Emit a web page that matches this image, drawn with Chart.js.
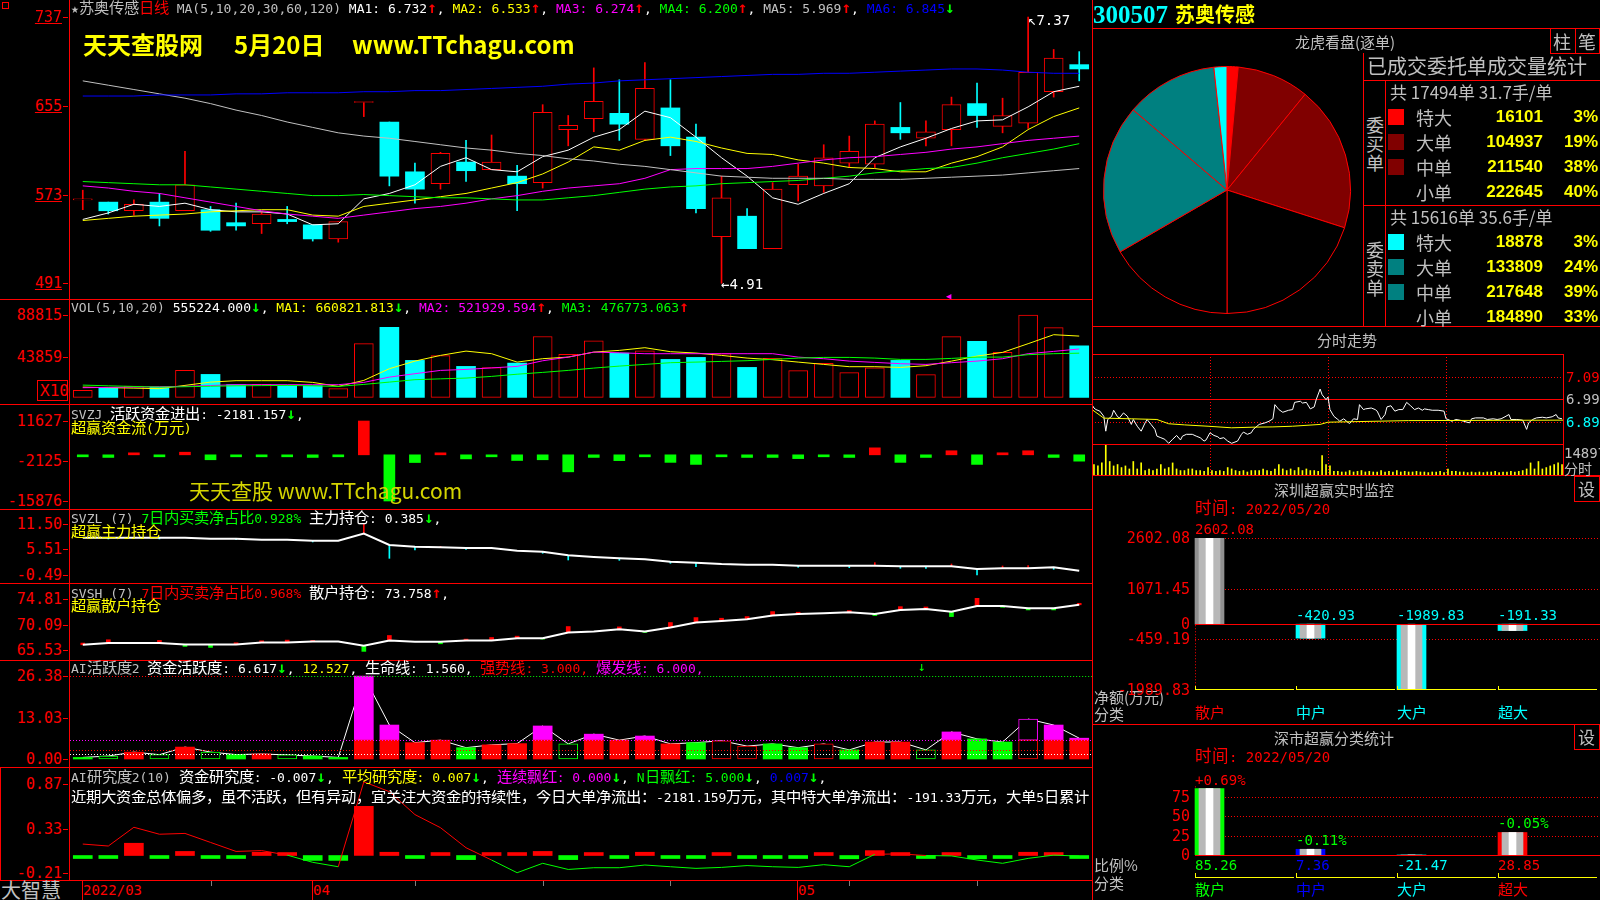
<!DOCTYPE html>
<html lang="zh-CN">
<head>
<meta charset="utf-8">
<title>苏奥传感 日线</title>
<script src="https://cdn.jsdelivr.net/npm/chart.js@4.4.0/dist/chart.umd.min.js"></script>
<style>
@font-face{font-family:"CJK15";src:local("Noto Sans CJK SC"),local("Noto Sans CJK SC Regular"),local("NotoSansCJKsc-Regular");size-adjust:118%;unicode-range:U+2E80-9FFF,U+3000-303F,U+FF00-FFEF;}
html,body{margin:0;padding:0;background:#000}
body{position:relative;width:1600px;height:900px;overflow:hidden;font:13px "DejaVu Sans Mono","CJK15","Noto Sans CJK SC",monospace;color:#c0c0c0}
canvas{position:absolute;z-index:1}
.t{position:absolute;white-space:nowrap;line-height:15px;z-index:3}
.ln{position:absolute;background:#f00;z-index:2}
.box{position:absolute;border:1px solid #f00;box-sizing:border-box;z-index:2}
.r{color:#f00}.w{color:#fff}.y{color:#ff0}.m{color:#f0f}.g{color:#0f0}.b{color:#00f}.c{color:#0ff}.s{color:#c0c0c0}
.ylab{position:absolute;right:1538px;font:15px "DejaVu Sans Mono",monospace;color:#f00;line-height:16px;z-index:3;white-space:nowrap}
.ul{text-decoration:underline}
.sans{font-family:"Noto Sans CJK SC",sans-serif}
.big{font:bold 24px "Noto Sans CJK SC",sans-serif;color:#ff0;line-height:28px}
</style>
</head>
<body>
<!-- left headers -->
<div class="t" style="left:71px;top:1px"><span class="s">★苏奥传感</span><span class="r">日线</span><span class="s"> MA(5,10,20,30,60,120) </span><span class="w">MA1: 6.732</span><span class="r">↑</span><span class="w">, </span><span class="y">MA2: 6.533</span><span class="r">↑</span><span class="w">, </span><span class="m">MA3: 6.274</span><span class="r">↑</span><span class="w">, </span><span class="g">MA4: 6.200</span><span class="r">↑</span><span class="w">, </span><span class="s">MA5: 5.969</span><span class="r">↑</span><span class="w">, </span><span class="b">MA6: 6.845</span><span class="g">↓</span></div>
<div class="t big" style="left:83px;top:30px">天天查股网</div>
<div class="t big" style="left:234px;top:30px">5月20日</div>
<div class="t big" style="left:352px;top:30px">www.TTchagu.com</div>
<div class="t w" style="left:1028px;top:13px;font-size:14px">↖7.37</div>
<div class="t w" style="left:721px;top:277px;font-size:14px">←4.91</div>
<div class="t m" style="left:946px;top:289px;font-size:9px">◀</div>

<div class="t" style="left:71px;top:300px"><span class="s">VOL(5,10,20)</span><span class="w"> 555224.000</span><span class="g">↓</span><span class="w">, </span><span class="y">MA1: 660821.813</span><span class="g">↓</span><span class="w">, </span><span class="m">MA2: 521929.594</span><span class="r">↑</span><span class="w">, </span><span class="g">MA3: 476773.063</span><span class="r">↑</span></div>
<div class="t r" style="left:40px;top:382px;font-size:16px;line-height:17px">X10</div>

<div class="t" style="left:71px;top:407px"><span class="s">SVZJ</span><span class="w">  活跃资金进出: -2181.157</span><span class="g">↓</span><span class="w">,</span></div>
<div class="t y" style="left:71px;top:421px">超赢资金流(万元)</div>
<div class="t sans" style="left:189px;top:476px;font-size:21px;line-height:28px;color:#d4d400">天天查股 www.TTchagu.com</div>

<div class="t" style="left:71px;top:511px"><span class="s">SVZL (7) </span><span class="g">7日内买卖净占比0.928% </span><span class="w">主力持仓: 0.385</span><span class="g">↓</span><span class="w">,</span></div>
<div class="t y" style="left:71px;top:525px">超赢主力持仓</div>

<div class="t" style="left:71px;top:586px"><span class="s">SVSH (7) </span><span class="r">7日内买卖净占比0.968% </span><span class="w">散户持仓: 73.758</span><span class="r">↑</span><span class="w">,</span></div>
<div class="t y" style="left:71px;top:599px">超赢散户持仓</div>

<div class="t" style="left:71px;top:661px"><span class="s">AI活跃度2 </span><span class="w">资金活跃度: 6.617</span><span class="g">↓</span><span class="w">, </span><span class="y">12.527</span><span class="w">, 生命线: 1.560, </span><span class="r">强势线: 3.000, </span><span class="m">爆发线: 6.000,</span></div>
<div class="t g" style="left:918px;top:659px">↓</div>

<div class="t" style="left:71px;top:770px"><span class="s">AI研究度2(10) </span><span class="w">资金研究度: -0.007</span><span class="g">↓</span><span class="w">, </span><span class="y">平均研究度: 0.007</span><span class="g">↓</span><span class="w">, </span><span class="m">连续飘红: 0.000</span><span class="g">↓</span><span class="w">, </span><span class="g">N日飘红: 5.000</span><span class="g">↓</span><span class="w">, </span><span class="b">0.007</span><span class="g">↓</span><span class="w">,</span></div>
<div class="t w" style="left:71px;top:790px;width:1020px;overflow:hidden">近期大资金总体偏多，虽不活跃，但有异动，宜关注大资金的持续性，今日大单净流出：-2181.159万元，其中特大单净流出：-191.33万元，大单5日累计</div>

<div class="t sans" style="left:1px;top:879px;font-size:20px;line-height:22px">大智慧</div>

<!-- right headers -->
<div class="t" style="left:1093px;top:2px;font:bold 25px 'Liberation Serif',serif;color:#0ff;line-height:26px">300507</div>
<div class="t sans" style="left:1175px;top:1px;font-size:20px;font-weight:bold;color:#ff0;line-height:26px">苏奥传感</div>
<div class="t sans" style="left:1295px;top:33px;font-size:15px;line-height:18px">龙虎看盘(逐单)</div>
<div class="t sans" style="left:1553px;top:30px;font-size:18px;line-height:22px">柱</div>
<div class="t sans" style="left:1578px;top:30px;font-size:18px;line-height:22px">笔</div>
<div class="t sans" style="left:1367px;top:54px;font-size:20px;line-height:24px">已成交委托单成交量统计</div>
<div class="t sans" style="left:1366px;top:115px;font-size:18px;line-height:19px;white-space:normal;width:19px">委买单</div>
<div class="t sans" style="left:1366px;top:240px;font-size:18px;line-height:19px;white-space:normal;width:19px">委卖单</div>
<div class="t sans" style="left:1317px;top:331px;font-size:15px;line-height:18px">分时走势</div>
<div class="t sans" style="left:1564px;top:461px;font-size:14px;line-height:15px">分时</div>
<div class="t sans" style="left:1274px;top:481px;font-size:15px;line-height:18px">深圳超赢实时监控</div>
<div class="t sans" style="left:1578px;top:479px;font-size:17px;line-height:20px">设</div>
<div class="t r" style="left:1195px;top:502px;font-size:14px">时间: 2022/05/20</div>
<div class="t sans" style="left:1094px;top:688px;font-size:15px;line-height:17px">净额(万元)</div>
<div class="t sans" style="left:1094px;top:705px;font-size:15px;line-height:17px">分类</div>
<div class="t sans" style="left:1274px;top:729px;font-size:15px;line-height:18px">深市超赢分类统计</div>
<div class="t sans" style="left:1578px;top:727px;font-size:17px;line-height:20px">设</div>
<div class="t r" style="left:1195px;top:750px;font-size:14px">时间: 2022/05/20</div>
<div class="t sans" style="left:1094px;top:856px;font-size:15px;line-height:17px">比例%</div>
<div class="t sans" style="left:1094px;top:874px;font-size:15px;line-height:17px">分类</div>

<script>
// ---------- daily data (2022-03-21 .. 2022-05-20) ----------
const days = ['03-21','03-22','03-23','03-24','03-25','03-28','03-29','03-30','03-31','04-01',
  '04-06','04-07','04-08','04-11','04-12','04-13','04-14','04-15','04-18','04-19',
  '04-20','04-21','04-22','04-25','04-26','04-27','04-28','04-29','05-05','05-06',
  '05-09','05-10','05-11','05-12','05-13','05-16','05-17','05-18','05-19','05-20'];
const open  = [5.68,5.66,5.58,5.66,5.58,5.59,5.47,5.46,5.50,5.45, 5.32,6.58,6.40,5.94,5.83,6.03,5.96,5.90,5.84,6.33,
               6.43,6.48,6.24,6.53,6.26,5.34,5.53,5.23,5.82,5.81, 6.02,6.01,6.35,6.25,6.33,6.57,6.36,6.39,6.68,6.93];
const high  = [5.77,5.66,5.68,5.74,6.13,5.62,5.65,5.57,5.62,5.45, 5.48,6.58,6.40,6.02,6.12,6.23,6.28,6.00,6.56,6.46,
               6.90,6.79,6.95,6.79,6.38,5.90,5.60,5.84,6.01,6.19, 6.27,6.41,6.58,6.41,6.63,6.76,6.62,7.37,7.07,7.05];
const low   = [5.59,5.55,5.54,5.44,5.58,5.39,5.40,5.37,5.46,5.30, 5.29,6.45,5.81,5.65,5.78,5.85,5.96,5.58,5.79,6.18,
               6.31,6.23,6.23,6.09,5.56,4.91,5.23,5.23,5.67,5.75, 5.98,5.98,6.24,6.18,6.18,6.35,6.30,6.34,6.63,6.78];
const close = [5.68,5.58,5.64,5.51,5.82,5.40,5.44,5.55,5.48,5.32, 5.48,6.58,5.90,5.78,6.11,5.95,6.03,5.83,6.49,6.37,
               6.59,6.38,6.71,6.18,5.60,5.70,5.23,5.78,5.90,6.07, 6.13,6.38,6.30,6.31,6.56,6.46,6.46,6.86,6.99,6.89];
const ma5   = [5.50,5.56,5.64,5.62,5.65,5.59,5.57,5.57,5.55,5.45, 5.46,5.69,5.74,5.82,5.99,6.07,5.96,5.94,6.08,6.14,
               6.26,6.33,6.50,6.44,6.26,6.07,5.90,5.70,5.64,5.74, 5.83,6.07,6.17,6.25,6.34,6.41,6.42,6.54,6.68,6.73];
const ma10  = [5.49,5.51,5.53,5.54,5.55,5.57,5.58,5.59,5.59,5.54, 5.53,5.62,5.65,5.68,5.71,5.74,5.79,5.84,5.92,6.03,
               6.17,6.14,6.23,6.26,6.22,6.16,6.11,6.10,6.05,6.02, 5.98,5.97,5.94,5.94,6.02,6.08,6.17,6.33,6.45,6.53];
const ma20  = [5.81,5.79,5.76,5.74,5.70,5.66,5.62,5.58,5.55,5.53, 5.51,5.54,5.57,5.60,5.62,5.65,5.69,5.72,5.76,5.79,
               5.81,5.83,5.88,5.96,5.97,5.97,5.97,5.99,6.02,6.05, 6.07,6.08,6.10,6.12,6.15,6.17,6.20,6.23,6.25,6.27];
const ma30  = [5.85,5.84,5.83,5.82,5.82,5.80,5.78,5.76,5.74,5.72, 5.72,5.73,5.72,5.71,5.70,5.70,5.69,5.68,5.68,5.70,
               5.72,5.75,5.78,5.80,5.81,5.83,5.84,5.85,5.86,5.88, 5.90,5.93,5.95,5.97,5.98,6.02,6.07,6.11,6.15,6.20];
const ma60  = [6.78,6.74,6.70,6.66,6.62,6.57,6.51,6.46,6.40,6.35, 6.30,6.27,6.25,6.22,6.19,6.16,6.14,6.11,6.09,6.06,
               6.04,6.01,5.99,5.96,5.93,5.90,5.89,5.88,5.88,5.88, 5.87,5.87,5.87,5.88,5.89,5.90,5.91,5.93,5.95,5.97];
const ma120 = [6.64,6.64,6.64,6.65,6.65,6.65,6.66,6.66,6.67,6.67, 6.67,6.68,6.68,6.69,6.69,6.70,6.71,6.72,6.73,6.75,
               6.76,6.78,6.79,6.80,6.81,6.82,6.83,6.84,6.84,6.85, 6.85,6.86,6.87,6.88,6.89,6.89,6.88,6.86,6.85,6.85];
const priceTicks = [7.37, 6.55, 5.73, 4.91];

// volume (axis units, x10 shares)
const vol     = [7550,10030,12180,11100,29100,24790,13690,14000,12940,12600, 9380,57890,75460,39890,44950,33420,32020,36980,65600,46350,
                 61100,47800,50300,40960,43120,47100,32340,42040,28780,36650, 26630,32000,39890,24470,65430,60370,48510,88815,75140,55522];
const volMa5  = [11100,10500,10000,9400,12940,16500,18000,18000,18000,16170, 11860,18330,30940,39130,45280,49910,47100,38050,41720,43440,
                 48830,50670,53570,49260,47800,45280,42370,40640,38050,35570, 33090,33090,32300,34170,39130,44520,48510,57890,67590,66082];
const volMa10 = [10460,10800,11200,11500,11860,12800,13690,13690,13690,13690, 13690,16170,21880,25550,29100,30180,31800,33420,39500,43440,
                 48830,48100,47110,47110,47110,47110,47110,47110,43440,41720, 39130,37730,36330,35570,37400,39130,41720,47110,49590,52193];
const volMa20 = [13260,12500,11800,11100,11500,12000,12500,12700,12940,12400, 11860,14010,16500,19080,20000,20810,22640,25000,26950,29110,
                 31590,33740,35570,37400,38050,38810,39560,40960,42370,43120, 43120,42370,40960,40960,42040,43440,43440,46030,47110,47677];
const volTicks = [88815, 43859];

// SVZJ 活跃资金进出 (万元)
const zj = [-600,-900,400,-600,900,-1700,-300,-300,-600,-900, -600,11627,-15876,-2650,500,-1400,-600,-1950,-1700,-5850,
            -900,-2000,-300,-2600,-3300,-300,-900,-900,-1300,-300, -900,2400,-2600,-900,1400,-3300,700,1400,-900,-2181];
const zjTicks = [11627, -2125, -15876];

// SVZL 主力持仓 + daily change ticks
const zl = [8.35,8.35,8.35,8.35,8.35,8.11,8.11,7.87,7.87,7.63, 7.63,9.31,6.59,6.19,6.03,5.87,5.87,5.23,4.99,4.11,
            3.71,3.39,3.15,2.59,2.35,2.03,1.87,1.87,1.63,1.63, 1.63,1.63,1.47,1.47,1.47,0.83,0.99,0.99,1.23,0.39];
const zlTick = [null,8.03,null,8.03,null,null,7.87,null,null,7.31, null,11.55,3.39,5.39,6.27,5.55,null,null,4.59,2.99,
                null,2.9,null,2.19,1.39,null,null,null,1.23,null, 1.15,2.35,0.99,0.99,2.03,-0.61,1.55,1.63,0.75,null];
const zlTicks = [11.50, 5.51, -0.49];

// SVSH 散户持仓 + daily change ticks
const sh = [66.48,66.79,66.79,66.79,66.55,66.55,66.55,66.90,66.90,67.08, 67.08,66.30,67.26,67.02,67.02,67.26,67.26,67.68,67.68,68.71,
            68.90,69.32,68.90,69.62,70.52,70.82,71.12,71.79,72.09,72.21, 72.39,72.09,72.81,73.00,72.51,73.54,73.54,73.12,73.12,73.76];
const shTick = [66.79,67.39,null,67.27,66.18,66.00,66.85,67.21,67.33,67.27, null,65.28,68.17,null,66.66,67.51,67.81,68.05,67.51,69.80,
                null,69.74,68.72,70.53,71.43,71.31,71.61,72.52,72.40,null, 72.70,71.80,73.42,73.36,71.61,74.93,73.30,72.82,72.82,74.03];
const shTicks = [74.81, 70.09, 65.53];

// AI活跃度2 资金活跃度 and bar kind (R red, G green, r/g hollow, m hollow magenta)
const act = [0.5,0.95,2.2,1.37,3.8,2.2,1.4,1.6,1.3,0.95, 0.5,26.38,10.8,5.2,6.0,3.6,4.5,4.9,10.5,4.8,
             7.9,6.0,7.3,4.8,5.2,5.8,4.1,4.8,3.6,4.8, 2.9,5.4,5.4,2.9,8.6,6.4,5.4,12.7,10.8,6.62];
const actKind = ['G','g','R','g','R','g','G','R','g','G', 'G','R','R','R','R','G','R','R','R','g',
                 'R','R','R','R','G','r','r','G','G','r', 'G','R','R','g','R','G','G','m','R','R'];
const actTicks = [26.38, 13.03, 0];
const actTop = 26.38, burstLine = 6, strongLine = 3, lifeLine = 1.56;

// AI研究度2
const res = [-0.01,-0.01,0.15,-0.01,0.05,-0.02,-0.02,0.04,0.01,-0.06, -0.06,0.60,0.04,-0.01,0.01,-0.05,0.02,0.01,0.05,-0.05,
             0.01,-0.01,0.04,-0.03,-0.03,0.01,-0.03,-0.03,-0.03,0.01, -0.04,0.06,0.03,-0.03,0.01,-0.04,-0.03,0.04,0.03,-0.007];
const resLine = [0.14,0.116,0.345,0.26,0.27,0.16,0.05,0.06,0.005,-0.083, -0.137,0.90,0.78,0.50,0.34,0.095,-0.055,-0.21,-0.095,-0.17,
                 -0.149,-0.149,-0.116,-0.137,-0.157,-0.145,-0.123,-0.137,-0.145,-0.112, -0.137,0.015,0.02,0.0,-0.005,-0.055,-0.095,-0.035,0.005,-0.007];
const resTicks = [0.87, 0.33, -0.21];

const monthIdx = [0, 9, 28], monthText = ['2022/03', '04', '05'];
const weekIdx = [5, 13, 18, 23, 30, 35];

// 龙虎看盘
const orderCats = ['特大','大单','中单','小单'];
const buyVol = [16101,104937,211540,222645], buyPct = [3,19,38,40];
const sellVol = [18878,133809,217648,184890], sellPct = [3,24,39,33];
const buyHead = '共 17494单 31.7手/单', sellHead = '共 15616单 35.6手/单';

// 分时走势
const fsMin = [0,1,2,4,6,7,8,10,11,13, 14,16,18,20,21,23,25,27,28,30, 32,33,35,37,39,41,43,45,46,48,
  51,53,55,57,58,60,62,64,65,67, 69,71,74,76,77,79,81,82,85,88, 90,92,93,95,97,100,102,103,106,107,
  109,111,113,114,116,117,119,120,121,123, 125,126,128,130,131,133,135,136,138,139, 142,144,145,147,149,150,152,154,156,158,
  160,162,164,166,168,169,171,173,176,179, 180,181,183,185,187,189,192,193,195,199, 201,204,206,208,210,212,213,216,219,221,
  222,224,226,229,231,234,236,237,239];
const fsPrice = [6.965,6.950,6.943,6.936,6.913,6.847,6.899,6.913,6.940,6.911, 6.906,6.928,6.913,6.877,6.899,6.869,6.847,6.884,6.899,6.877,
  6.855,6.825,6.818,6.811,6.793,6.811,6.828,6.808,6.825,6.833, 6.833,6.825,6.818,6.803,6.808,6.840,6.828,6.822,6.814,6.818,
  6.803,6.793,6.803,6.833,6.843,6.833,6.840,6.855,6.877,6.884, 6.891,6.902,6.965,6.943,6.931,6.940,6.943,6.975,6.980,6.972,
  6.975,6.946,6.955,6.987,7.034,7.009,6.987,6.999,6.943,6.913, 6.899,6.891,6.902,6.887,6.881,6.902,6.899,6.965,6.943,6.946,
  6.950,6.943,6.936,6.899,6.921,6.955,6.960,6.936,6.943,6.943, 6.975,6.960,6.943,6.950,6.940,6.946,6.943,6.940,6.940,6.936,
  6.902,6.899,6.891,6.899,6.896,6.891,6.884,6.902,6.906,6.906, 6.899,6.902,6.899,6.902,6.911,6.921,6.899,6.899,6.896,6.855,
  6.884,6.899,6.906,6.909,6.906,6.911,6.921,6.906,6.902];
const fsAvgMin = [0,6,20,33,39,47,59,71,83,92,102,116,120,161,240];
const fsAvgPrice = [6.943,6.905,6.902,6.899,6.880,6.875,6.869,6.862,6.865,6.866,6.869,6.877,6.887,6.894,6.896];
const fsVol = [5200,4500,6000,14897,6700,4500,5200,3700,4500,3000, 6700,3000,6000,2200,3000,2200,3000,5200,3000,3700,
  6000,3000,2200,2200,3000,3000,2200,2200,1800,3700, 2200,1800,2200,1800,3700,3000,2200,1800,2200,1500,
  2200,2200,2200,3000,2200,1800,3000,5200,3000,2200, 3000,2200,3700,2200,3000,2200,2200,1800,9700,5200,
  4500,1800,1800,1500,1500,2200,1500,1800,2200,1500, 1800,1500,1500,2200,1500,1800,1500,2200,1500,1800,
  1500,1500,1800,1500,1500,1200,1500,1500,1800,1200, 3000,1800,1800,1500,1500,1200,1500,1200,1500,1200,
  1500,1500,1800,1200,1500,1500,1800,1500,1800,2200, 3000,6000,3000,6700,3000,3700,4500,5200,6000,5200];
const fsTicks = [7.09, 6.99, 6.89], prevClose = 6.99, fsVolMax = 14897;

// 深圳超赢实时监控 / 深市超赢分类统计
const szCats = ['散户','中户','大户','超大'];
const szNet = [2602.08, -420.93, -1989.83, -191.33];
const szTicks = [2602.08, 1071.45, 0, -459.19, -1989.83];
const smRatio = [85.26, 7.36, -21.47, 28.85];
const smChg = ['+0.69%', '-0.11%', null, '-0.05%'];
const smTicks = [75, 50, 25, 0];

// ---------- helpers ----------
const RED = '#ff0000', CYAN = '#00ffff', GREEN = '#00ff00', MAG = '#ff00ff', YEL = '#ffff00', WHITE = '#ffffff';

// taller arrows, like the terminal's bitmap font
document.querySelectorAll('span').forEach(s => {
  if (/^[↑↓]$/.test(s.textContent)) { s.style.fontSize = '16px'; s.style.fontWeight = 'bold'; s.style.lineHeight = '13px'; }
});

function drawG(ch, list) {
  if (!list) return;
  const { ctx, chartArea: ca, scales: { x, y } } = ch;
  list.forEach(g => {
    ctx.save();
    ctx.strokeStyle = g.c; ctx.lineWidth = 1; ctx.setLineDash(g.d || []);
    ctx.beginPath();
    if (g.y !== undefined) {
      const py = Math.round(y.getPixelForValue(g.y)) + 0.5;
      ctx.moveTo(g.x0 !== undefined ? x.getPixelForValue(g.x0) : ca.left, py);
      ctx.lineTo(g.x1 !== undefined ? x.getPixelForValue(g.x1) : ca.right, py);
    } else {
      const px = Math.round(x.getPixelForValue(g.x)) + 0.5;
      ctx.moveTo(px, g.y0 !== undefined ? y.getPixelForValue(g.y0) : ca.top);
      ctx.lineTo(px, g.y1 !== undefined ? y.getPixelForValue(g.y1) : ca.bottom);
    }
    ctx.stroke(); ctx.restore();
  });
}

function mk(left, top, w, h, cfg, under, over) {
  const cv = document.createElement('canvas');
  cv.width = w; cv.height = h;
  Object.assign(cv.style, { left: left + 'px', top: top + 'px', width: w + 'px', height: h + 'px' });
  document.body.appendChild(cv);
  cfg.options = Object.assign({ responsive: false, animation: false, events: [], layout: { padding: 0 } }, cfg.options);
  cfg.options.plugins = Object.assign({ legend: { display: false }, tooltip: { enabled: false } }, cfg.options.plugins);
  cfg.plugins = [{ id: 'guides', beforeDatasetsDraw: ch => drawG(ch, under), afterDatasetsDraw: ch => drawG(ch, over) }];
  const ch = new Chart(cv, cfg);
  ch.$left = left; ch.$top = top;
  return ch;
}

function line(x, y, w, h, color, dotted) {
  const d = document.createElement('div');
  d.className = 'ln';
  Object.assign(d.style, { left: x + 'px', top: y + 'px', width: w + 'px', height: h + 'px' });
  const c = color || RED;
  d.style.background = dotted
    ? `repeating-linear-gradient(${w > h ? 'to right' : 'to bottom'}, ${c} 0 1px, transparent 1px 3px)` : c;
  document.body.appendChild(d);
}
function box(x, y, w, h) {
  const d = document.createElement('div');
  d.className = 'box';
  Object.assign(d.style, { left: x + 'px', top: y + 'px', width: w + 'px', height: h + 'px' });
  document.body.appendChild(d);
}
function text(x, y, str, style) {
  const d = document.createElement('div');
  d.className = 't';
  d.textContent = str;
  d.style.left = x + 'px'; d.style.top = y + 'px';
  if (style) d.style.cssText += style;
  document.body.appendChild(d);
  return d;
}
function yLabels(ch, vals, fmt, cls, right, tick) {
  vals.forEach(v => {
    const py = ch.$top + ch.scales.y.getPixelForValue(v);
    const d = document.createElement('div');
    d.className = 'ylab' + (cls ? ' ' + cls : '');
    d.textContent = fmt(v);
    d.style.top = (py - 8) + 'px';
    if (right !== undefined) d.style.right = right + 'px';
    document.body.appendChild(d);
    if (tick !== false) line(63, Math.round(py), 5, 1);
  });
}

const catX = { display: false, offset: true, grid: { display: false } };
const LX = 70, LW = 1022;
const upDay = close.map((c, i) => c >= open[i]);
const maLine = (data, color) => ({ type: 'line', data, borderColor: color, borderWidth: 1, pointRadius: 0, order: 1 });

// ---------- candlestick panel ----------
const kChart = mk(LX, 0, LW, 299, {
  type: 'bar',
  data: { labels: days, datasets: [
    { data: low.map((l, i) => [l, high[i]]), backgroundColor: upDay.map(u => u ? RED : CYAN), barThickness: 1, grouped: false, order: 3 },
    { data: open.map((o, i) => [o, close[i]]), backgroundColor: upDay.map(u => u ? '#000' : CYAN),
      borderColor: upDay.map(u => u ? RED : CYAN), borderWidth: upDay.map(u => u ? 1 : 0), borderSkipped: false,
      barThickness: 19, minBarLength: 1, grouped: false, order: 2 },
    maLine(ma120, '#0000ff'), maLine(ma60, '#c0c0c0'), maLine(ma30, GREEN),
    maLine(ma20, MAG), maLine(ma10, YEL), maLine(ma5, WHITE)
  ]},
  options: { scales: { x: catX, y: { display: false, min: 4.765, max: 7.527 } } }
});
yLabels(kChart, priceTicks, v => String(Math.round(v * 100)), 'ul');

// ---------- volume ----------
const vChart = mk(LX, 300, LW, 104, {
  type: 'bar',
  data: { labels: days, datasets: [
    { data: vol, backgroundColor: upDay.map(u => u ? '#000' : CYAN), borderColor: upDay.map(u => u ? RED : CYAN),
      borderWidth: upDay.map(u => u ? 1 : 0), borderSkipped: false, barThickness: 19, order: 2 },
    maLine(volMa20, GREEN), maLine(volMa10, MAG), maLine(volMa5, YEL)
  ]},
  options: { scales: { x: catX, y: { display: false, min: -7114, max: 104984 } } }
});
yLabels(vChart, volTicks, v => String(v));
box(37, 380, 31, 21);

// ---------- SVZJ ----------
const zjChart = mk(LX, 405, LW, 104, {
  type: 'bar',
  data: { labels: days, datasets: [
    { data: zj, backgroundColor: zj.map(v => v >= 0 ? RED : GREEN), barThickness: 11, minBarLength: 2 }
  ]},
  options: { scales: { x: catX, y: { display: false, min: -18627, max: 17128 } } }
});
yLabels(zjChart, zjTicks, v => String(v));

// ---------- SVZL ----------
const zlChart = mk(LX, 510, LW, 73, {
  type: 'bar',
  data: { labels: days, datasets: [
    { data: zlTick.map((t, i) => t === null ? null : [zl[i], t]),
      backgroundColor: zlTick.map((t, i) => t !== null && t > zl[i] ? RED : CYAN), barThickness: 1, grouped: false, order: 2 },
    { type: 'line', data: zl, borderColor: WHITE, borderWidth: 2, pointRadius: 0, order: 1 }
  ]},
  options: { scales: { x: catX, y: { display: false, min: -2.528, max: 14.977 } } }
});
yLabels(zlChart, zlTicks, v => v.toFixed(2));

// ---------- SVSH ----------
const shChart = mk(LX, 584, LW, 76, {
  type: 'bar',
  data: { labels: days, datasets: [
    { data: shTick.map((t, i) => t === null ? null : [sh[i], t]),
      backgroundColor: shTick.map((t, i) => t !== null && t > sh[i] ? RED : GREEN), barThickness: 4, grouped: false, order: 2 },
    { type: 'line', data: sh, borderColor: WHITE, borderWidth: 2, pointRadius: 0, order: 1 }
  ]},
  options: { scales: { x: catX, y: { display: false, min: 63.71, max: 77.54 } } }
});
yLabels(shChart, shTicks, v => v.toFixed(2));

// ---------- AI活跃度2 ----------
const fillLo = { R: RED, G: GREEN, g: '#000', r: '#000', m: '#000' };
const edgeLo = { R: RED, G: GREEN, g: GREEN, r: RED, m: RED };
const fillHi = { R: MAG, G: GREEN, g: '#000', r: '#000', m: '#000' };
const edgeHi = { R: MAG, G: GREEN, g: GREEN, r: RED, m: MAG };
const hollow = k => (k === 'g' || k === 'r' || k === 'm') ? 1 : 0;
const actChart = mk(LX, 661, LW, 106, {
  type: 'bar',
  data: { labels: days, datasets: [
    { data: act.map(v => Math.min(v, burstLine)), backgroundColor: actKind.map(k => fillLo[k]), borderColor: actKind.map(k => edgeLo[k]),
      borderWidth: actKind.map(hollow), borderSkipped: false, barThickness: 19, stack: 'a', order: 1 },
    { data: act.map(v => v > burstLine ? v - burstLine : null), backgroundColor: actKind.map(k => fillHi[k]), borderColor: actKind.map(k => edgeHi[k]),
      borderWidth: actKind.map(hollow), borderSkipped: false, barThickness: 19, stack: 'a', order: 1 },
    { type: 'line', data: act, borderColor: WHITE, borderWidth: 1, pointRadius: 0, stack: 'b', order: 2 }
  ]},
  options: { scales: { x: Object.assign({ stacked: true }, catX), y: { display: false, stacked: true, min: -2.54, max: 31.15 } } }
}, null, [
  { y: actTop, c: RED, d: [1, 2], x0: -0.5, x1: 8 },
  { y: actTop, c: GREEN, d: [1, 2], x0: 8, x1: 39.5 },
  { y: burstLine, c: MAG, d: [1, 2] },
  { y: strongLine, c: RED, d: [1, 2] },
  { y: lifeLine, c: WHITE, d: [1, 2] }
]);
yLabels(actChart, actTicks, v => v.toFixed(2));

// ---------- AI研究度2 ----------
const resChart = mk(LX, 768, LW, 112, {
  type: 'bar',
  data: { labels: days, datasets: [
    { data: res, backgroundColor: res.map(v => v >= 0 ? RED : GREEN), barThickness: 19, minBarLength: 3, order: 2 },
    { type: 'line', data: resLine, borderWidth: 1, pointRadius: 0, order: 1, borderColor: RED,
      segment: { borderColor: c => (c.p0.parsed.y + c.p1.parsed.y) >= 0 ? RED : GREEN } }
  ]},
  options: { scales: { x: catX, y: { display: false, min: -0.299, max: 1.069 } } }
});
yLabels(resChart, resTicks, v => v.toFixed(2));

// ---------- left frame + date axis ----------
line(69, 0, 1, 880);
[299, 404, 509, 583, 660, 767, 880].forEach(y => line(0, y, 1092, 1));
box(0, 767, 70, 114);
box(2, 2, 7, 7);
monthIdx.forEach((idx, k) => {
  const px = Math.round(LX + kChart.scales.x.getPixelForValue(idx));
  line(px - 1, 880, 1, 20);
  text(px, 882, monthText[k], 'color:#f00;font-size:14px;line-height:16px');
});
weekIdx.forEach(idx => line(Math.round(LX + kChart.scales.x.getPixelForValue(idx)), 881, 1, 5, '#808080'));

// ---------- right frame ----------
line(1092, 0, 1, 900);
line(1092, 28, 508, 1);
box(1550, 28, 26, 26); box(1575, 28, 25, 26);
line(1363, 53, 1, 273); line(1385, 80, 1, 246);
line(1363, 80, 237, 1); line(1363, 205, 237, 1);
line(1092, 326, 508, 1);
line(1092, 354, 472, 1); line(1092, 444, 472, 1); line(1563, 354, 1, 121);
line(1092, 475, 508, 1);
box(1574, 476, 26, 26);
line(1092, 724, 508, 1);
box(1574, 724, 26, 26);

// ---------- pie ----------
const pieColors = ['#ff0000','#800000','#800000','#000000','#000000','#008080','#008080','#00ffff'];
mk(1101, 64, 252, 252, {
  type: 'pie',
  data: { labels: orderCats.concat(orderCats.slice().reverse()),
    datasets: [{ data: buyVol.concat(sellVol.slice().reverse()), backgroundColor: pieColors,
      borderColor: RED, borderWidth: 1, hoverOffset: 0, offset: 0 }] },
  options: { layout: { padding: 2 } }
});

// ---------- order table ----------
const buyBox = ['#ff0000', '#800000', '#800000', null], sellBox = ['#00ffff', '#008080', '#008080', null];
function tableBlock(headY, head, vols, pcts, colors) {
  text(1390, headY - 10, head, 'font:17px "Noto Sans CJK SC",sans-serif;line-height:20px;color:#c0c0c0');
  vols.forEach((v, i) => {
    const cy = headY + 25 * (i + 1);
    if (colors[i]) { const b = text(1388, cy - 8, ''); b.style.cssText += `width:16px;height:16px;background:${colors[i]}`; }
    text(1416, cy - 11, orderCats[i], 'font:18px "Noto Sans CJK SC",sans-serif;line-height:22px;color:#c0c0c0');
    const n = text(0, cy - 10, String(v), 'font:bold 17px "Liberation Sans",sans-serif;line-height:20px;color:#ff0');
    n.style.left = ''; n.style.right = '57px';
    const p = text(0, cy - 10, pcts[i] + '%', 'font:bold 17px "Liberation Sans",sans-serif;line-height:20px;color:#ff0');
    p.style.left = ''; p.style.right = '2px';
  });
}
tableBlock(91.7, buyHead, buyVol, buyPct, buyBox);
tableBlock(217, sellHead, sellVol, sellPct, sellBox);

// ---------- 分时走势 ----------
const fsChart = mk(1092, 354, 472, 90, {
  type: 'line',
  data: { datasets: [
    { data: fsAvgMin.map((m, i) => ({ x: m, y: fsAvgPrice[i] })), borderColor: YEL, borderWidth: 1, pointRadius: 0 },
    { data: fsMin.map((m, i) => ({ x: m, y: fsPrice[i] })), borderColor: WHITE, borderWidth: 1, pointRadius: 0 }
  ]},
  options: { scales: { x: { type: 'linear', display: false, min: 0, max: 240 }, y: { display: false, min: 6.79, max: 7.19 } } }
}, [
  { y: 7.09, c: RED, d: [1, 2] }, { y: 6.89, c: RED, d: [1, 2] }, { y: 6.99, c: RED },
  { x: 60, c: RED, d: [1, 2] }, { x: 120, c: RED, d: [1, 2] }, { x: 180, c: RED, d: [1, 2] }
]);
fsTicks.forEach(v => {
  const py = 354 + fsChart.scales.y.getPixelForValue(v);
  const col = v > prevClose ? '#f00' : (v < prevClose ? '#0ff' : '#c0c0c0');
  text(1566, py - 8, v.toFixed(2), `color:${col};font-size:14px;line-height:16px`);
});
mk(1092, 445, 472, 30, {
  type: 'bar',
  data: { datasets: [{ data: fsVol.map((v, i) => ({ x: i * 2 + 1, y: v })), backgroundColor: YEL, barThickness: 1 }] },
  options: { scales: { x: { type: 'linear', display: false, min: 0, max: 240, offset: false }, y: { display: false, min: 0, max: fsVolMax } } }
}, [{ x: 60, c: RED, d: [1, 2] }, { x: 120, c: RED, d: [1, 2] }, { x: 180, c: RED, d: [1, 2] }]);
text(1564, 446, String(fsVolMax), 'font-size:14px;line-height:15px');

// ---------- bar panels ----------
const barX = { type: 'linear', display: false, min: -1.1634, max: 3.8663, offset: false };
function layered(vals, edges) {
  const pts = vals.map((v, i) => ({ x: i, y: v }));
  return [
    { data: pts, backgroundColor: edges, barThickness: 29, grouped: false, order: 3 },
    { data: pts, backgroundColor: '#b8b8b8', barThickness: 21, grouped: false, order: 2 },
    { data: pts, backgroundColor: '#ffffff', barThickness: 7, grouped: false, order: 1 }
  ];
}
const szEdge = ['#909090', CYAN, CYAN, CYAN];
const szChart = mk(1092, 500, 508, 190, {
  type: 'bar',
  data: { datasets: layered(szNet, szEdge) },
  options: { scales: { x: barX, y: { display: false, min: -1992, max: 3761 } } }
}, [
  { y: szTicks[0], c: RED, d: [1, 2], x0: -0.1436 }, { y: szTicks[1], c: RED, d: [1, 2], x0: -0.1436 },
  { y: szTicks[3], c: RED, d: [1, 2], x0: -0.1436 }, { x: -0.1436, c: RED, d: [1, 2], y0: szTicks[0], y1: szTicks[4] }
], [{ y: 0, c: RED, x0: -0.1436 }]);
yLabels(szChart, szTicks, v => v === 0 ? '0' : v.toFixed(2), '', 410, false);
const szCatCol = ['#f00', '#0ff', '#0ff', '#0ff'];
szNet.forEach((v, i) => {
  const bx = Math.round(1092 + szChart.scales.x.getPixelForValue(i) - 14.5);
  const ty = 500 + szChart.scales.y.getPixelForValue(Math.max(v, 0)) - 17;
  text(bx, ty, v.toFixed(2), `color:${v >= 0 ? '#f00' : '#0ff'};font-size:14px;line-height:16px`);
  text(bx, 703, szCats[i], `font:15px "Noto Sans CJK SC",sans-serif;line-height:18px;color:${szCatCol[i]}`);
  const br = text(bx, 686, ''); br.style.cssText += 'width:98px;height:3px;border-left:1px solid #ff0;border-bottom:1px solid #ff0';
});

const smEdge = [GREEN, '#0000ff', CYAN, RED];
const smChart = mk(1092, 760, 508, 95, {
  type: 'bar',
  data: { datasets: layered(smRatio, smEdge) },
  options: { scales: { x: barX, y: { display: false, min: 0, max: 121.8 } } }
}, [
  { y: 75, c: RED, d: [1, 2], x0: -0.1436 }, { y: 50, c: RED, d: [1, 2], x0: -0.1436 }, { y: 25, c: RED, d: [1, 2], x0: -0.1436 },
  { x: -0.1436, c: RED, d: [1, 2], y0: 88, y1: 0 }
]);
line(1195, 855, 405, 1);
yLabels(smChart, smTicks, v => String(v), '', 410, false);
smRatio.forEach((v, i) => {
  const bx = Math.round(1092 + smChart.scales.x.getPixelForValue(i) - 14.5);
  if (smChg[i]) {
    const ty = 760 + smChart.scales.y.getPixelForValue(Math.max(v, 0)) - 17;
    text(bx, ty, smChg[i], `color:${smChg[i][0] === '+' ? '#f00' : '#0f0'};font-size:14px;line-height:16px`);
  }
  text(bx, 857, v.toFixed(2), `color:${smEdge[i]};font-size:14px;line-height:16px`);
  const br = text(bx, 873, ''); br.style.cssText += 'width:98px;height:4px;border-left:1px solid #ff0;border-bottom:1px solid #ff0';
  text(bx, 880, szCats[i], `font:15px "Noto Sans CJK SC",sans-serif;line-height:18px;color:${smEdge[i]}`);
});
</script>
</body>
</html>
